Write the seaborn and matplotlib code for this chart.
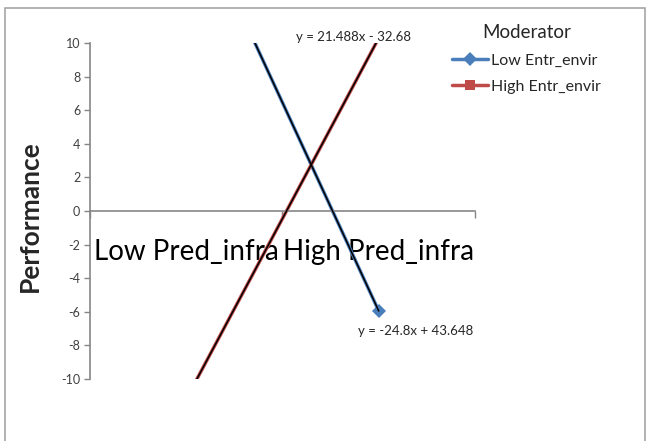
import numpy as np
import pandas as pd
import matplotlib
matplotlib.use("Agg")
import matplotlib.pyplot as plt
from matplotlib.patches import Rectangle
import seaborn as sns

categories = ["Low Pred_infra", "High Pred_infra"]
cat_pos = [1, 2]
series = ["Low Entr_envir", "High Entr_envir"]
low_vals = [18.848, -5.952]
high_vals = [-11.192, 10.296]
y_ticks = [-10, -8, -6, -4, -2, 0, 2, 4, 6, 8, 10]

df = pd.DataFrame({
    "x": cat_pos * 2,
    "Performance": low_vals + high_vals,
    "Moderator": [series[0]] * 2 + [series[1]] * 2,
})

sns.set_style("white")
plt.rcParams["font.family"] = ["Lato", "DejaVu Sans"]

fig = plt.figure(figsize=(6.49, 4.41), dpi=100)
ax = fig.add_axes([90 / 649, 1 - 379 / 441, 385 / 649, 336 / 441])

colors = {series[0]: "#4A7EBB", series[1]: "#BE4B48"}
sns.lineplot(data=df, x="x", y="Performance", hue="Moderator", style="Moderator",
             markers=["D", "s"], dashes=False, palette=colors, linewidth=2.5,
             markersize=7, markeredgewidth=0, ax=ax, legend=True)

# linear trendlines (black, thin) with their equations
eq_pos = {series[0]: (416, 331), series[1]: (353, 37)}
for name in series:
    sub = df[df["Moderator"] == name]
    m, b = np.polyfit(sub["x"], sub["Performance"], 1)
    xs = np.array([1.0, 2.0])
    ax.plot(xs, m * xs + b, color="black", lw=1.1, zorder=5)
    m, b = round(m, 3), round(b, 3)
    sign = "+" if b >= 0 else "-"
    label = f"y = {m:g}x {sign} {abs(b):g}"
    px, py = eq_pos[name]
    fig.text(px / 649, 1 - py / 441, label, fontsize=9.5, color="#262626",
             ha="center", va="center")

ax.set_xlim(0.5, 2.5)
ax.set_ylim(-10, 10)
ax.set_yticks(y_ticks)
ax.set_yticklabels([str(t) for t in y_ticks])
ax.tick_params(axis="y", direction="out", length=4, width=1, color="#868686",
               left=True, pad=3, labelsize=9, labelcolor="#404040")

ax.set_xticks([0.5, 1.5, 2.5])
ax.set_xticklabels([])
ax.set_xticks(cat_pos, minor=True)
ax.set_xticklabels(categories, minor=True)
ax.tick_params(axis="x", which="major", direction="out", length=5, width=1,
               color="#868686", bottom=True)
ax.tick_params(axis="x", which="minor", length=0, pad=20, labelsize=20,
               labelcolor="black")

for s in ["top", "right"]:
    ax.spines[s].set_visible(False)
ax.spines["bottom"].set_position(("data", 0))
for s in ["left", "bottom"]:
    ax.spines[s].set_color("#868686")
    ax.spines[s].set_linewidth(1.2)

ax.set_xlabel("")
ax.set_ylabel("")
fig.text(30 / 649, 1 - 216 / 441, "Performance", rotation=90, fontsize=19,
         fontweight="bold", ha="center", va="center")

handles, labels = ax.get_legend_handles_labels()
ax.get_legend().remove()
fig.legend(handles, labels, title="Moderator", loc="upper left",
           bbox_to_anchor=(438 / 649, 1 - 10 / 441), frameon=False,
           fontsize=11.5, title_fontsize=13.5, handlelength=2.2,
           handletextpad=0.2, labelspacing=0.75)

fig.add_artist(Rectangle((5 / 649, -0.05), 640 / 649, 1.05 - 8 / 441,
                         transform=fig.transFigure, fill=False,
                         edgecolor="#A6A6A6", lw=1.2))

fig.savefig("out.png", dpi=100)
